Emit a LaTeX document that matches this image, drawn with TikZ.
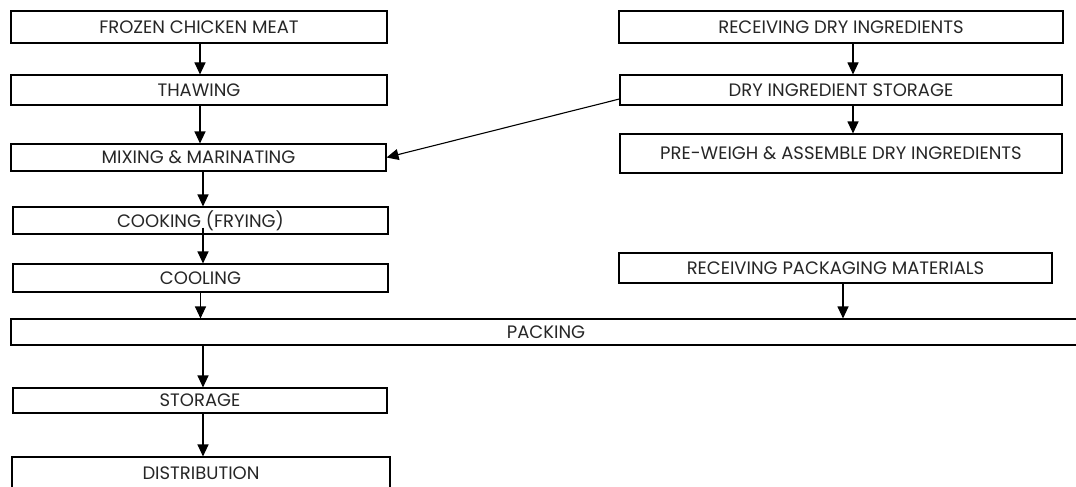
\documentclass[tikz,border=0pt]{standalone}
\usepackage{fontspec}
\setmainfont{Poppins}
\usetikzlibrary{arrows.meta}

\begin{document}
\begin{tikzpicture}[x=1pt,y=-1pt,line width=1.1pt,
  procbox/.style={draw,inner sep=0pt,font=\fontsize{18}{20}\selectfont,text=black!85},
  flow/.style={-{Triangle[length=12pt,width=11pt]}}]
\useasboundingbox (0,0) rectangle (1076,487);
% chicken line
\node[procbox,minimum width=376pt,minimum height=32pt] (frozen) at (199,27) {FROZEN CHICKEN MEAT};
\node[procbox,minimum width=376pt,minimum height=30pt] (thaw) at (199,90) {THAWING};
\node[procbox,minimum width=375pt,minimum height=27pt] (mix) at (198.5,157.5) {MIXING \& MARINATING};
\node[procbox,minimum width=375pt,minimum height=27pt] (cook) at (200.5,220.5) {COOKING (FRYING)};
\node[procbox,minimum width=375pt,minimum height=28pt] (cool) at (200.5,278) {COOLING};
\node[procbox,minimum width=1070pt,minimum height=26pt] (pack) at (546,332) {PACKING};
\node[procbox,minimum width=374pt,minimum height=25pt] (store) at (200,400.5) {STORAGE};
\node[procbox,minimum width=378pt,minimum height=33pt] (distr) at (201,473.5) {DISTRIBUTION};
% dry ingredients and packaging
\node[procbox,minimum width=444pt,minimum height=32pt] (recv) at (841,27) {RECEIVING DRY INGREDIENTS};
\node[procbox,minimum width=442pt,minimum height=30pt] (drystore) at (841,90) {DRY INGREDIENT STORAGE};
\node[procbox,minimum width=442pt,minimum height=39pt] (weigh) at (841,153.5) {PRE-WEIGH \& ASSEMBLE DRY INGREDIENTS};
\node[procbox,minimum width=433pt,minimum height=30pt] (pkgmat) at (835.5,268) {RECEIVING PACKAGING MATERIALS};

\draw[flow] ([xshift=1pt]frozen.south) -- ([xshift=1pt]thaw.north);
\draw[flow] ([xshift=1pt]thaw.south) -- ([xshift=1pt]thaw.south |- mix.north);
\draw[flow] ([xshift=4.5pt]mix.south) -- ([xshift=4.5pt]mix.south |- cook.north);
\draw[flow] ([xshift=2.5pt,yshift=7pt]cook.south) -- ([xshift=2.5pt]cool.north);
\draw[flow] (cool.south) -- (cool.south |- pack.north);
\draw[flow] ([xshift=3pt]pack.south -| store.north) -- ([xshift=3pt]store.north);
\draw[flow] ([xshift=3pt]store.south) -- ([xshift=3pt]store.south |- distr.north);
\draw[flow] ([xshift=12pt]recv.south) -- ([xshift=12pt]drystore.north);
\draw[flow] ([xshift=12pt]drystore.south) -- ([xshift=12pt]weigh.north);
\draw[flow] ([yshift=-9pt]drystore.west) -- (mix.east);
\draw[flow] ([xshift=7.5pt]pkgmat.south) -- ([xshift=7.5pt]pkgmat.south |- pack.north);
\end{tikzpicture}
\end{document}
